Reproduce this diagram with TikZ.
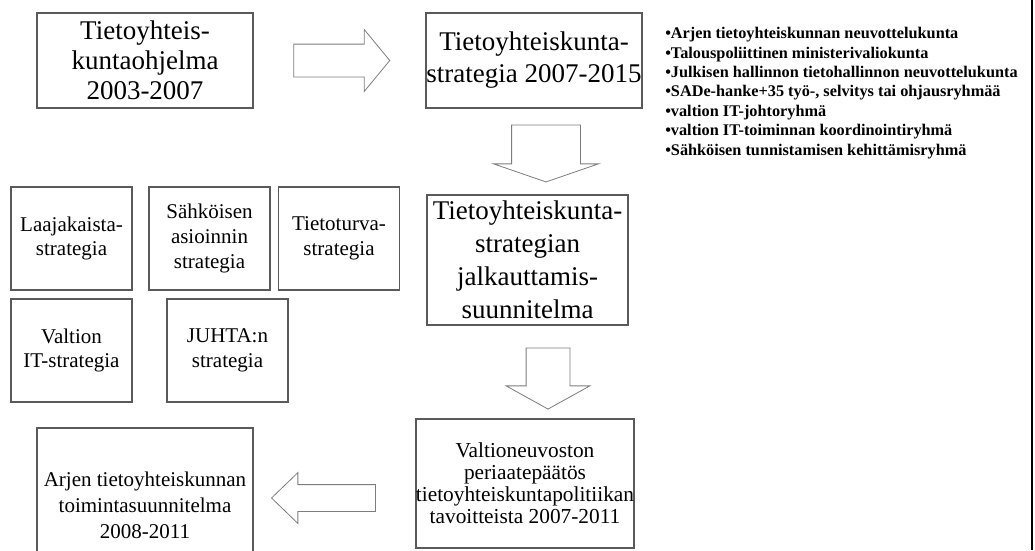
\documentclass[tikz,border=0pt]{standalone}
\usepackage{fontspec}
\setmainfont{Liberation Serif}
\usetikzlibrary{shapes.arrows,calc}
\definecolor{boxgray}{RGB}{90,90,90}
\definecolor{arrgray}{RGB}{125,125,125}

\begin{document}
\begin{tikzpicture}[x=0.75pt,y=0.75pt,yscale=-1,xscale=1,
  box/.style={draw=boxgray, line width=0.9pt, inner sep=0pt, align=center},
  bigbox/.style={box, minimum width=162pt, minimum height=71.25pt},
  smallbox/.style={box, minimum width=90.75pt, minimum height=77.25pt, font=\fontsize{15.75}{18.5}\selectfont},
  blockarrow/.style={single arrow, draw=arrgray, line width=0.6pt, fill=white, inner xsep=0pt},
  rarrow/.style={blockarrow, inner ysep=12pt, single arrow head extend=10.875pt, single arrow tip angle=101, minimum height=72pt},
  darrowbig/.style={blockarrow, inner ysep=25.5pt, single arrow head extend=13.5pt, single arrow tip angle=142, minimum height=42.75pt, rotate=-90},
  darrow/.style={blockarrow, inner ysep=16.125pt, single arrow head extend=15pt, single arrow tip angle=122, minimum height=45.75pt, rotate=-90},
  larrow/.style={blockarrow, inner ysep=9.75pt, single arrow head extend=9pt, single arrow tip angle=88, minimum height=78pt, rotate=180}]
\useasboundingbox (0,0) rectangle (1035,550);

% Text Node
\node [bigbox, font=\fontsize{20.25}{22.5}\selectfont] (prog) at (145,60.5) {Tietoyhteis-\\kuntaohjelma\\2003-2007};
% Text Node
\node [bigbox, font=\fontsize{20.25}{24}\selectfont] (strat) at (534,60.5) {Tietoyhteiskunta-\\strategia 2007-2015};
% Text Node
\node [box, minimum width=150.75pt, minimum height=97.5pt, font=\fontsize{20.25}{24.75}\selectfont] (jalk) at (527.5,260) {Tietoyhteiskunta-\\strategian\\jalkauttamis-\\suunnitelma};
% Text Node
\node [box, minimum width=162pt, minimum height=96.75pt, font=\fontsize{16}{16.5}\selectfont] (vnp) at (525,483.5) {Valtioneuvoston\\periaatepäätös\\tietoyhteiskuntapolitiikan\\tavoitteista 2007-2011};
% Text Node
\node [box, minimum width=162pt, minimum height=115.5pt, font=\fontsize{15.75}{19.5}\selectfont] (arjen) at (145,505) {Arjen tietoyhteiskunnan\\toimintasuunnitelma\\2008-2011};

% small strategy boxes
\node [smallbox] (laaja) at (71.5,238.5) {Laajakaista-\\strategia};
\node [smallbox] (sahk) at (209.5,238.5) {Sähköisen\\asioinnin\\strategia};
\node [smallbox] (tturva) at (339,238.5) {Tietoturva-\\strategia};
\node [smallbox] (valtit) at (71.5,350.5) {Valtion\\IT-strategia};
\node [smallbox] (juhta) at (227.5,350.5) {JUHTA:n\\strategia};

% list of bodies
\node [anchor=north west, inner sep=0pt, align=left, font=\bfseries\fontsize{12.2}{14.6}\selectfont] (bodies) at (665,27) {%
•Arjen tietoyhteiskunnan neuvottelukunta\\
•Talouspoliittinen ministerivaliokunta\\
•Julkisen hallinnon tietohallinnon neuvottelukunta\\
•SADe-hanke+35 työ-, selvitys tai ohjausryhmää\\
•valtion IT-johtoryhmä\\
•valtion IT-toiminnan koordinointiryhmä\\
•Sähköisen tunnistamisen kehittämisryhmä};

% Block arrows
\node [rarrow] (a1) at ($(prog.east)!0.5!(strat.west)+(-4.5,0)$) {};
\node [darrowbig] (a2) at ($(strat.south)!0.5!(jalk.north)+(15.25,-4)$) {};
\node [darrow] (a3) at ($(jalk.south)!0.5!(vnp.north)+(21.75,0.5)$) {};
\node [larrow] (a4) at ($(arjen.east |- vnp.west)!0.5!(vnp.west)+(-4,14.5)$) {};

% right border
\draw [line width=1.9pt] (1032,0) -- (1032,550);

\end{tikzpicture}
\end{document}
